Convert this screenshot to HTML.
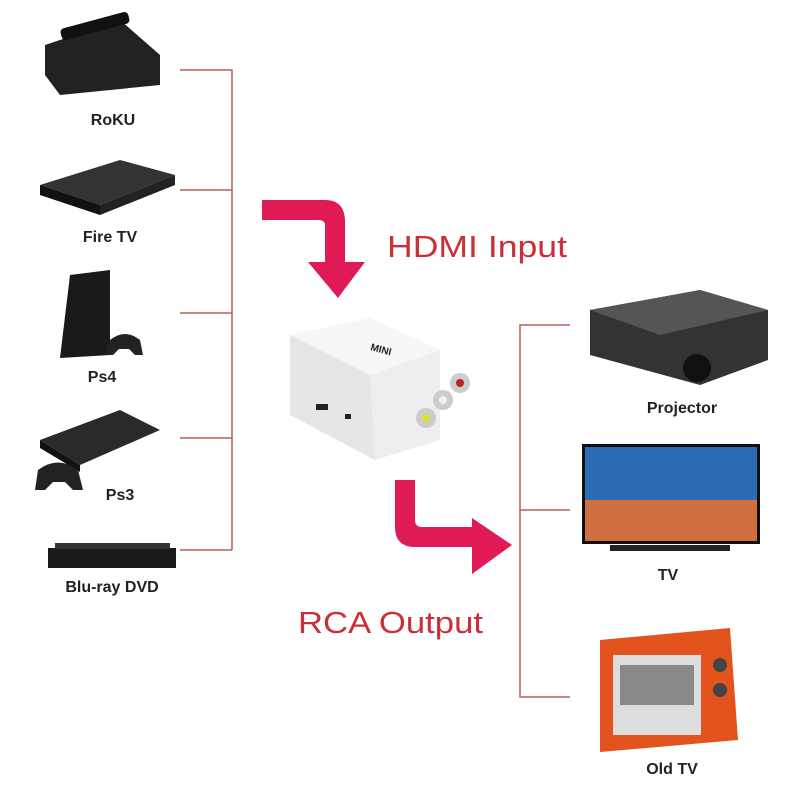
<!DOCTYPE html>
<html><head><meta charset="utf-8"><style>
body{margin:0;background:#fff;}
svg{display:block;font-family:"Liberation Sans",sans-serif;}
</style></head><body>
<svg width="800" height="800" viewBox="0 0 800 800" xmlns="http://www.w3.org/2000/svg">
<rect width="800" height="800" fill="#fff"/>
<g stroke="#b4645a" stroke-width="1.5" fill="none">
<path d="M180 70H232V550M180 190H232M180 313H232M180 438H232M180 550H232"/>
<path d="M570 325H520V697H570M520 510H570"/>
</g>
<g>
<path d="M45 45 L120 20 L160 55 L160 85 L60 95 L45 75Z" fill="#222"/>
<rect x="60" y="20" width="70" height="12" rx="4" fill="#111" transform="rotate(-15 95 26)"/>
<path d="M40 185 L120 160 L175 175 L100 205 Z" fill="#333"/>
<path d="M40 185 L100 205 L100 215 L40 195Z" fill="#111"/>
<path d="M100 205 L175 175 L175 185 L100 215Z" fill="#222"/>
<path d="M70 275 L110 270 L110 355 L60 358 Z" fill="#1a1a1a"/>
<path d="M110 340 q15 -12 30 0 l3 15 l-8 0 l-6 -6 l-10 0 l-6 6 l-8 0z" fill="#222"/>
<path d="M40 440 L120 410 L160 430 L80 465 Z" fill="#2a2a2a"/>
<path d="M40 440 L80 465 L80 472 L40 448Z" fill="#111"/>
<path d="M38 470 q20 -15 40 0 l5 20 l-10 0 l-8 -8 l-12 0 l-8 8 l-10 0z" fill="#222"/>
<rect x="48" y="548" width="128" height="20" fill="#1a1a1a"/>
<rect x="55" y="543" width="115" height="6" fill="#333"/>
</g>
<g font-size="16" fill="#222" text-anchor="middle" font-weight="bold">
<text x="113" y="125">RoKU</text>
<text x="110" y="242">Fire TV</text>
<text x="102" y="382">Ps4</text>
<text x="120" y="500">Ps3</text>
<text x="112" y="592">Blu-ray DVD</text>
<text x="682" y="413">Projector</text>
<text x="668" y="580">TV</text>
<text x="672" y="774">Old TV</text>
</g>
<g fill="#df1a55">
<path d="M262 200 H325 Q345 200 345 222 V262 H365 L338 298 L308 262 H325 V225 Q325 220 318 220 H262Z"/>
<path d="M395 480 H415 V520 Q415 527 422 527 H472 V518 L512 545 L472 574 V547 H415 Q395 547 395 527Z"/>
</g>
<g font-size="31" fill="#c8303a">
<text x="387" y="257" textLength="180" lengthAdjust="spacingAndGlyphs">HDMI Input</text>
<text x="298" y="633" textLength="185" lengthAdjust="spacingAndGlyphs">RCA Output</text>
</g>
<g>
<path d="M290 335 L370 318 L440 350 L440 440 L375 460 L290 415Z" fill="#eeeeee"/>
<path d="M290 335 L370 318 L440 350 L370 375Z" fill="#f7f7f7"/>
<path d="M290 335 L370 375 L375 460 L290 415Z" fill="#e6e6e6"/>
<text x="370" y="350" font-size="10" font-weight="bold" fill="#222" transform="rotate(15 370 350)">MINI</text>
<circle cx="460" cy="383" r="10" fill="#ccc"/><circle cx="460" cy="383" r="4" fill="#b22"/>
<circle cx="443" cy="400" r="10" fill="#ccc"/><circle cx="443" cy="400" r="4" fill="#eee"/>
<circle cx="426" cy="418" r="10" fill="#ccc"/><circle cx="426" cy="418" r="4" fill="#dd3"/>
<rect x="316" y="404" width="12" height="6" fill="#222"/>
<rect x="345" y="414" width="6" height="5" fill="#222"/>
</g>
<path d="M590 310 L700 290 L768 310 L768 360 L700 385 L590 355Z" fill="#333"/>
<path d="M590 310 L700 290 L768 310 L660 335Z" fill="#555"/>
<circle cx="697" cy="368" r="14" fill="#111"/>
<rect x="582" y="444" width="178" height="100" fill="#111"/>
<rect x="585" y="447" width="172" height="94" fill="#2a6cb5"/>
<rect x="585" y="500" width="172" height="41" fill="#d07040"/>
<rect x="610" y="545" width="120" height="6" fill="#222"/>
<path d="M600 640 L730 628 L738 740 L600 752Z" fill="#e2531d"/>
<rect x="613" y="655" width="88" height="80" fill="#ddd"/>
<rect x="620" y="665" width="74" height="40" fill="#888"/>
<circle cx="720" cy="665" r="7" fill="#444"/><circle cx="720" cy="690" r="7" fill="#444"/>
</svg>
</body></html>
